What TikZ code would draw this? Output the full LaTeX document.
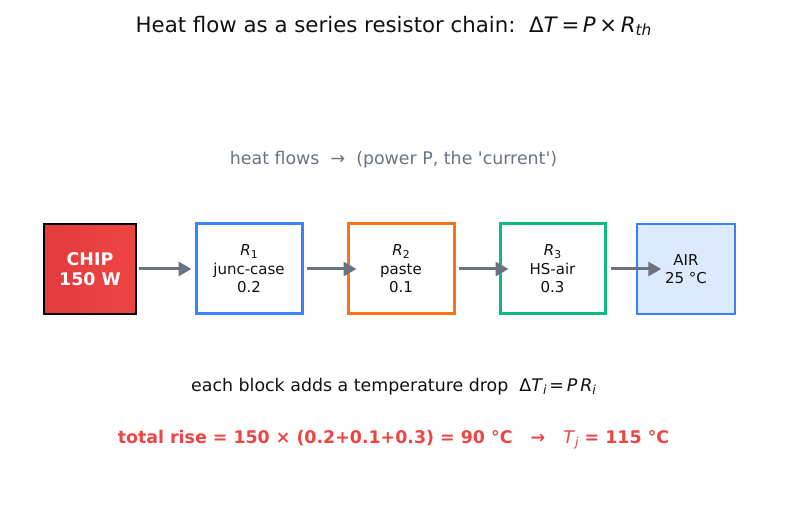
\documentclass[tikz,border=0pt]{standalone}
\usepackage{fontspec}
\setmainfont{DejaVu Sans}[Ligatures=TeXOff]
\usetikzlibrary{arrows.meta}
\definecolor{chipred}{HTML}{EF4444}
\definecolor{chipdark}{HTML}{E23B3B}
\definecolor{rblue}{HTML}{3B82F6}
\definecolor{rorange}{HTML}{F97316}
\definecolor{rgreen}{HTML}{10B981}
\definecolor{airfill}{HTML}{DBEAFE}
\definecolor{arrgray}{HTML}{6B7280}
\definecolor{txtgray}{HTML}{6B7280}
\definecolor{txtdark}{HTML}{111111}
\newcommand{\sbs}[1]{\raisebox{-0.3ex}{\scalebox{0.72}{#1}}}
\newcommand{\iv}[1]{\textit{#1}}
\tikzset{
  blk/.style={draw, minimum width=#1, minimum height=90pt, inner sep=0pt, align=center, font=\fontsize{15}{18.5}\selectfont, text=txtdark},
  rbox/.style={blk=106pt, line width=3pt, fill=white},
  flow/.style={draw=arrgray, line width=3pt, -{Triangle[length=13pt,width=14pt]}},
}
\begin{document}
\begin{tikzpicture}[x=1pt,y=-1pt]
\useasboundingbox (0,0) rectangle (787,510);
\node[font=\fontsize{21.3}{25}\selectfont, text=txtdark] (title) at (393.5,26) {Heat flow as a series resistor chain:\ \ Δ\iv{T}\,=\,\iv{P}\,×\,\iv{R}\sbs{\iv{th}}};
\node[font=\fontsize{17.4}{20}\selectfont, text=txtgray] (hf) at (393.5,160) {heat flows\ \ →\ \ (power P, the 'current')};
\node[blk=92pt, draw=black, line width=1.5pt, left color=chipdark, right color=chipred, text=white, font=\fontsize{17.4}{20.5}\bfseries\selectfont] (chip) at (90,269) {CHIP\\150 W};
\node[rbox, draw=rblue] (r1) at (249,269) {\iv{R}\sbs{1}\\junc-case\\0.2};
\node[rbox, draw=rorange] (r2) at (401,269) {\iv{R}\sbs{2}\\paste\\0.1};
\node[rbox, draw=rgreen, minimum width=105pt] (r3) at (552.5,269) {\iv{R}\sbs{3}\\HS-air\\0.3};
\node[blk=98pt, draw=rblue, fill=airfill, line width=1.5pt] (air) at (686,269) {AIR\\25 °C};
\draw[flow] ([xshift=2pt]chip.east) -- ([xshift=-3pt]r1.west);
\draw[flow] ([xshift=3pt]r1.east) -- ([xshift=10pt]r2.west);
\draw[flow] ([xshift=3pt]r2.east) -- ([xshift=10pt]r3.west);
\draw[flow] ([xshift=4pt]r3.east) -- ([xshift=25pt]air.west);
\node[font=\fontsize{17.4}{20}\selectfont, text=txtdark] (drop) at (393.5,387) {each block adds a temperature drop\ \ Δ\iv{T}\sbs{\iv{i}}\,=\,\iv{P}\,\iv{R}\sbs{\iv{i}}};
\node[font=\fontsize{17.4}{20}\bfseries\selectfont, text=chipred] (total) at (393.5,440) {total rise = 150 × (0.2+0.1+0.3) = 90 °C\ \ \ →\ \ \ {\mdseries\iv{T}\sbs{\iv{j}}} = 115 °C};
\end{tikzpicture}
\end{document}
